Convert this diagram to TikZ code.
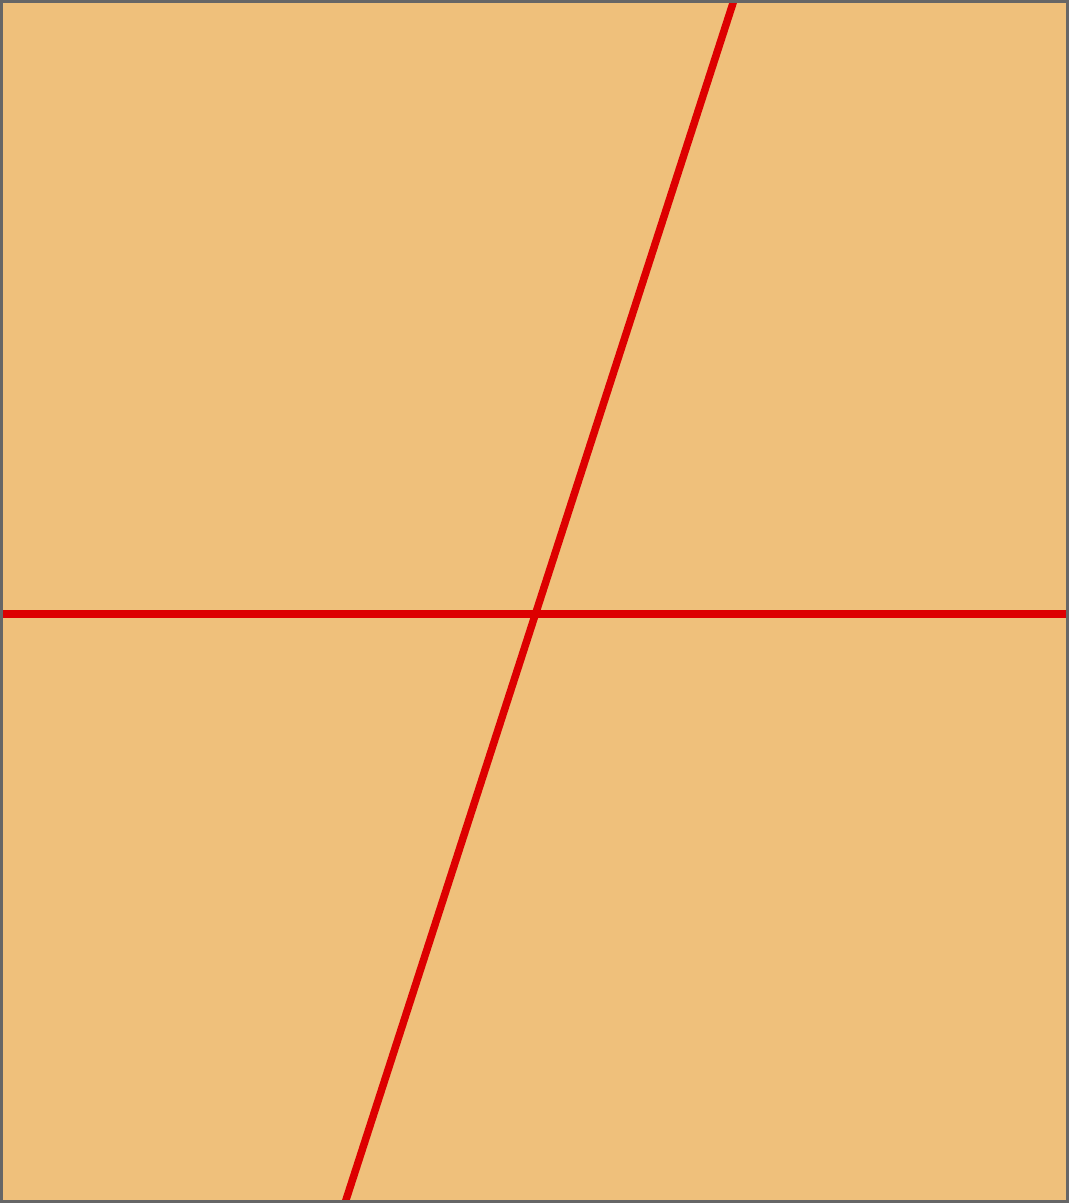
\documentclass[tikz,border=0pt]{standalone}
\usepackage{xcolor}
\definecolor{sheet}{HTML}{EFC07B}
\definecolor{frame}{HTML}{666666}
\definecolor{cut}{HTML}{DD0000}
\begin{document}
\begin{tikzpicture}[
        sheetframe/.style={draw=frame, line width=0.03cm},
        cutline/.style={draw=cut, line width=0.075cm}
    ]

    \useasboundingbox (0,0) rectangle (10.69,12.03);

    % Sheet
    \fill[sheet] (0,0) rectangle (10.69,12.03);

    % Cut lines
    \coordinate (left) at (0,5.89);
    \coordinate (right) at (10.69,5.89);
    \coordinate (top) at (7.34,12.03);
    \coordinate (bottom) at (3.45,0);
    \draw[cutline] (left) -- (right);
    \draw[cutline] (bottom) -- (top);

    % Frame
    \draw[sheetframe] (0.015,0.015) rectangle (10.675,12.015);

\end{tikzpicture}
\end{document}
